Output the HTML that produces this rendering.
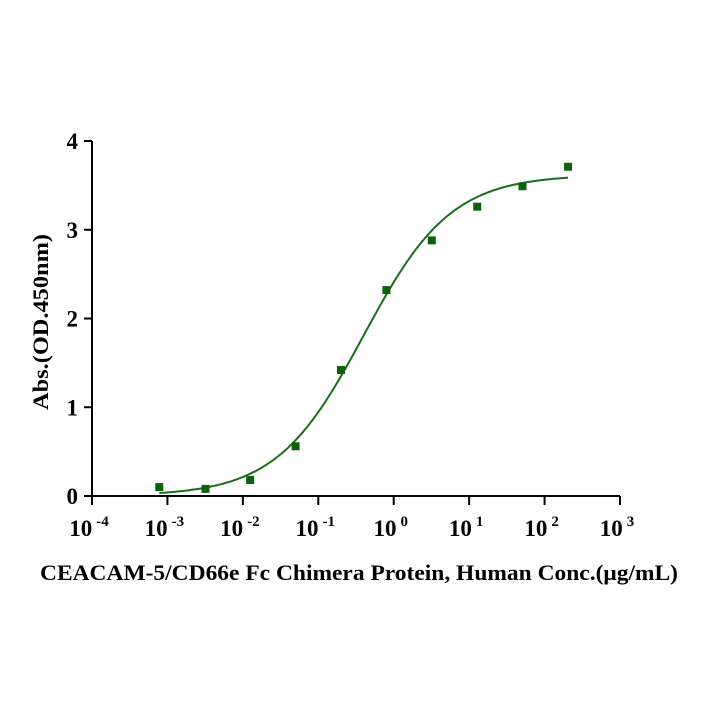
<!DOCTYPE html>
<html><head><meta charset="utf-8"><style>
html,body{margin:0;padding:0;background:#fff;}
svg{display:block;font-family:"Liberation Serif",serif;font-weight:bold;}
</style></head><body>
<svg id="chart" width="704" height="704" viewBox="0 0 704 704">
<g id="axes"></g>
<g id="marks"></g>
<text x="48" y="322" transform="rotate(-90 48 322)" font-size="22" text-anchor="middle" textLength="176" lengthAdjust="spacingAndGlyphs">Abs.(OD.450nm)</text>
<text x="359" y="580" font-size="22" text-anchor="middle" textLength="638" lengthAdjust="spacingAndGlyphs">CEACAM-5/CD66e Fc Chimera Protein, Human Conc.(μg/mL)</text>
</svg>
<script>
const concentrations=[0.00078,0.0032,0.0125,0.05,0.2,0.8,3.2,12.8,51,205];
const absorbance=[0.10,0.08,0.18,0.56,1.42,2.32,2.88,3.26,3.49,3.71];
const fitParams=[0.0,3.62,0.4,0.75]; // bottom, top, EC50, hill
const xTickExps=[-4,-3,-2,-1,0,1,2,3];
const yTicks=[0,1,2,3,4];
const NS="http://www.w3.org/2000/svg";
const X0=92,X1=620,Y0=496,Y1=141;
function xs(v){return X0+(Math.log10(v)+4)/7*(X1-X0);}
function ys(v){return Y0-v/4*(Y0-Y1);}
function mk(t,a,p){const e=document.createElementNS(NS,t);for(const k in a)e.setAttribute(k,a[k]);p.appendChild(e);return e;}
const ax=document.getElementById('axes'),mg=document.getElementById('marks');
const yl=mk('line',{x1:X0,y1:Y1,x2:X0,y2:Y0+8,stroke:'#000','stroke-width':2},ax);


const xl=mk('line',{x1:X0-8,y1:Y0,x2:X1,y2:Y0,stroke:'#000','stroke-width':2},ax);


yTicks.forEach(v=>{
 const y=ys(v);
 if(v>0){const tl=mk('line',{x1:X0-8,y1:y,x2:X0,y2:y,stroke:'#000','stroke-width':2},ax);
 
 }
 const t=mk('text',{x:X0-14,y:y+8,'font-size':23,'text-anchor':'end'},ax);
 t.textContent=v;
 
 
});
xTickExps.forEach(e=>{
 const x=xs(Math.pow(10,e));
 const tl=mk('line',{x1:x,y1:Y0,x2:x,y2:Y0+9,stroke:'#000','stroke-width':2},ax);
 
 
 const t=mk('text',{x:x-3,y:Y0+40,'font-size':23,'text-anchor':'middle'},ax);
 
 
 t.appendChild(document.createTextNode('10'));
 const s=mk('tspan',{dy:-10,'font-size':15,dx:4},t);
 s.textContent=e;
});
function fit(x){const[b,t,c,h]=fitParams;return b+(t-b)/(1+Math.pow(c/x,h));}
let d='';const lo=Math.log10(concentrations[0]),hi=Math.log10(concentrations[concentrations.length-1]);
for(let i=0;i<=200;i++){const x=Math.pow(10,lo+(hi-lo)*i/200);d+=(i?'L':'M')+xs(x).toFixed(1)+','+ys(fit(x)).toFixed(1);}
const p=mk('path',{d:d,fill:'none',stroke:'#1a6e1a','stroke-width':2},mg);


concentrations.forEach((c,i)=>{
 const r=mk('rect',{x:xs(c)-4,y:ys(absorbance[i])-4,width:8,height:8,fill:'#0d610d'},mg);
 
 
});
</script>
</body></html>
